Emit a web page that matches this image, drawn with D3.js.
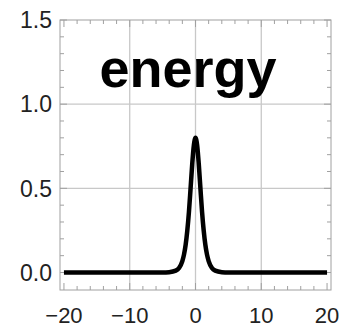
<!DOCTYPE html>
<html><head><meta charset="utf-8">
<script src="https://cdn.jsdelivr.net/npm/d3@7"></script>
<style>body{margin:0;background:#fff}svg{display:block}text{font-family:"Liberation Sans",Arial,sans-serif}</style>
</head><body><svg id="c" width="348" height="329"></svg>
<script>
const xs = [-20, -5, -4, -3, -2.5, -2, -1.75, -1.5, -1.25, -1, -0.75, -0.5, -0.25, 0, 0.25, 0.5, 0.75, 1, 1.25, 1.5, 1.75, 2, 2.5, 3, 4, 5, 20];
const ys = [0, 0.0002, 0.002, 0.011, 0.027, 0.068, 0.106, 0.164, 0.248, 0.359, 0.499, 0.643, 0.756, 0.80, 0.756, 0.643, 0.499, 0.359, 0.248, 0.164, 0.106, 0.068, 0.027, 0.011, 0.002, 0.0002, 0];
const xTicks = [-20, -10, 0, 10, 20];
const yTicks = [0.0, 0.5, 1.0, 1.5];
const xGrid = [-10, 0, 10];
const yGrid = [0.5, 1.0];
const title = "energy";

const svg = d3.select("#c");
const L = 60, R = 331, T = 20, B = 290;
const x = d3.scaleLinear().domain([-20.6, 20.6]).range([L, R]);
const y = d3.scaleLinear().domain([-0.104, 1.5]).range([B, T]);

// grid
svg.append("g").selectAll("line").data(xGrid).join("line")
  .attr("x1", d => x(d)).attr("x2", d => x(d)).attr("y1", T).attr("y2", B)
  .attr("stroke", "#c8c8c8").attr("stroke-width", 1.3);
svg.append("g").selectAll("line").data(yGrid).join("line")
  .attr("y1", d => y(d)).attr("y2", d => y(d)).attr("x1", L).attr("x2", R)
  .attr("stroke", "#c8c8c8").attr("stroke-width", 1.3);

// frame
svg.append("rect").attr("x", L).attr("y", T).attr("width", R - L).attr("height", B - T)
  .attr("fill", "none").attr("stroke", "#a0a0a0").attr("stroke-width", 1);

// ticks (inward on all sides)
const xMinor = d3.range(-20, 20.01, 2);
const yMinor = d3.range(0, 15.01, 1).map(v => v / 10);
const tickG = svg.append("g").attr("stroke", "#a0a0a0").attr("stroke-width", 1);
xMinor.forEach(v => {
  const major = Math.abs(v % 10) < 1e-9;
  const len = major ? 7 : 4;
  tickG.append("line").attr("x1", x(v)).attr("x2", x(v)).attr("y1", B).attr("y2", B - len);
  tickG.append("line").attr("x1", x(v)).attr("x2", x(v)).attr("y1", T).attr("y2", T + len);
});
yMinor.forEach(v => {
  const major = Math.abs((v * 10) % 5) < 1e-9;
  const len = major ? 7 : 4;
  tickG.append("line").attr("y1", y(v)).attr("y2", y(v)).attr("x1", L).attr("x2", L + len);
  tickG.append("line").attr("y1", y(v)).attr("y2", y(v)).attr("x1", R).attr("x2", R - len);
});

// tick labels
svg.append("g").selectAll("text").data(xTicks).join("text")
  .attr("x", d => x(d)).attr("y", 323).attr("text-anchor", "middle")
  .attr("font-size", 22).attr("fill", "#222")
  .text(d => d < 0 ? "\u2212" + Math.abs(d) : String(d));
svg.append("g").selectAll("text").data(yTicks).join("text")
  .attr("x", 52).attr("y", d => y(d) + 8.3).attr("text-anchor", "end")
  .attr("font-size", 23).attr("fill", "#222")
  .text(d => d.toFixed(1));

// curve
const pts = xs.map((v, i) => [v, ys[i]]);
svg.append("path").datum(pts)
  .attr("d", d3.line().x(d => x(d[0])).y(d => y(d[1])).curve(d3.curveMonotoneX))
  .attr("fill", "none").attr("stroke", "#000").attr("stroke-width", 4.5)
  .attr("stroke-linejoin", "round");

// title
svg.append("text").attr("x", 188).attr("y", 87).attr("text-anchor", "middle")
  .attr("font-size", 54).attr("font-weight", "bold").attr("fill", "#000").text(title);
</script></body></html>
